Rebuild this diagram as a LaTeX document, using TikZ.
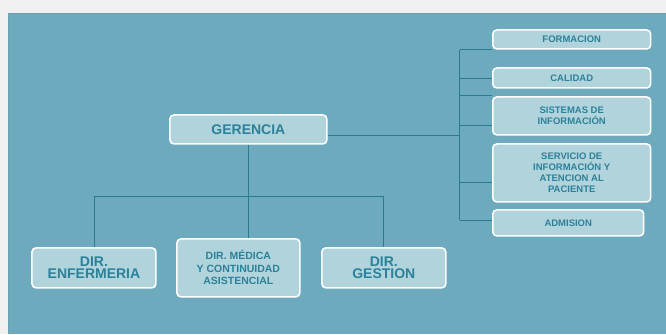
\documentclass[tikz,border=0pt]{standalone}
\usepackage{fontspec}
\setmainfont{Liberation Sans}
\usetikzlibrary{positioning}
\definecolor{fondo}{HTML}{6EAABD}
\definecolor{caja}{HTML}{B1D4DC}
\definecolor{letra}{HTML}{2B8199}
\definecolor{linea}{HTML}{2A7A90}
\definecolor{papel}{HTML}{F0F0F0}

\begin{document}
\begin{tikzpicture}[x=1pt,y=-1pt,
	caja/.style={draw=white, line width=1.5pt, fill=caja, rounded corners=4pt,
		inner sep=0pt, align=center, text=letra, font=\bfseries},
	grande/.style={caja, font=\fontsize{14}{12.5}\selectfont\bfseries},
	media/.style={caja, font=\fontsize{10.5}{12.5}\selectfont\bfseries},
	chica/.style={caja, font=\fontsize{9.5}{11}\selectfont\bfseries},
	enlace/.style={draw=linea, line width=0.8pt}]

	% fondo
	\fill[papel] (0,0) rectangle (666,334);
	\fill[fondo] (8,13) rectangle (666,334);
	\draw[linea!70, line width=0.6pt] (8,334) -- (8,13) -- (666,13);
	\useasboundingbox (0,0) rectangle (666,334);

	% cajas
	\node[grande, minimum width=157pt, minimum height=29pt] (gerencia) at (248.5,129.5) {GERENCIA};

	\node[chica, minimum width=158pt, minimum height=19pt] (formacion) at (572,39.5) {FORMACION};
	\node[chica, minimum width=158pt, minimum height=20pt] (calidad) at (572,78) {CALIDAD};
	\node[chica, minimum width=158pt, minimum height=38pt] (sistemas) at (572,116) {SISTEMAS DE\\INFORMACIÓN};
	\node[chica, minimum width=158pt, minimum height=58pt] (servicio) at (572,173) {SERVICIO DE\\INFORMACIÓN Y\\ATENCION AL\\PACIENTE};
	\node[chica, minimum width=151pt, minimum height=26pt] (admision) at (568.5,223) {ADMISION};

	\node[grande, minimum width=124pt, minimum height=40pt] (enfermeria) at (94,268) {DIR.\\ENFERMERIA};
	\node[media, minimum width=123pt, minimum height=58pt] (medica) at (238.5,268) {DIR. MÉDICA\\Y CONTINUIDAD\\ASISTENCIAL};
	\node[grande, minimum width=124pt, minimum height=40pt] (gestion) at (384,268) {DIR.\\GESTION};

	% puntos de union
	\coordinate (bus) at (460,135);
	\coordinate (reparto) at (248.5,196);

	% lineas derecha
	\draw[enlace] (formacion.south west -| bus) -- ([yshift=3pt]admision.west -| bus);
	\draw[enlace] ([yshift=-5.5pt]gerencia.east) -- (bus);
	\draw[enlace] (formacion.south west -| bus) -- (formacion.south west);
	\draw[enlace] (calidad.west -| bus) -- (calidad.west);
	\draw[enlace] ([yshift=1pt]sistemas.north west -| bus) -- ([yshift=1pt]sistemas.north west);
	\draw[enlace] ([yshift=-9pt]sistemas.west -| bus) -- ([yshift=-9pt]sistemas.west);
	\draw[enlace] ([yshift=-9pt]servicio.west -| bus) -- ([yshift=-9pt]servicio.west);
	\draw[enlace] ([yshift=3pt]admision.west -| bus) -- ([yshift=3pt]admision.west);

	% lineas abajo
	\draw[enlace] (gerencia.south) -- (reparto);
	\draw[enlace] (reparto -| enfermeria.north) -- (reparto -| gestion.north);
	\draw[enlace] (reparto -| enfermeria.north) -- (enfermeria.north);
	\draw[enlace] (reparto) -- (reparto |- medica.north);
	\draw[enlace] (reparto -| gestion.north) -- (gestion.north);
\end{tikzpicture}
\end{document}
